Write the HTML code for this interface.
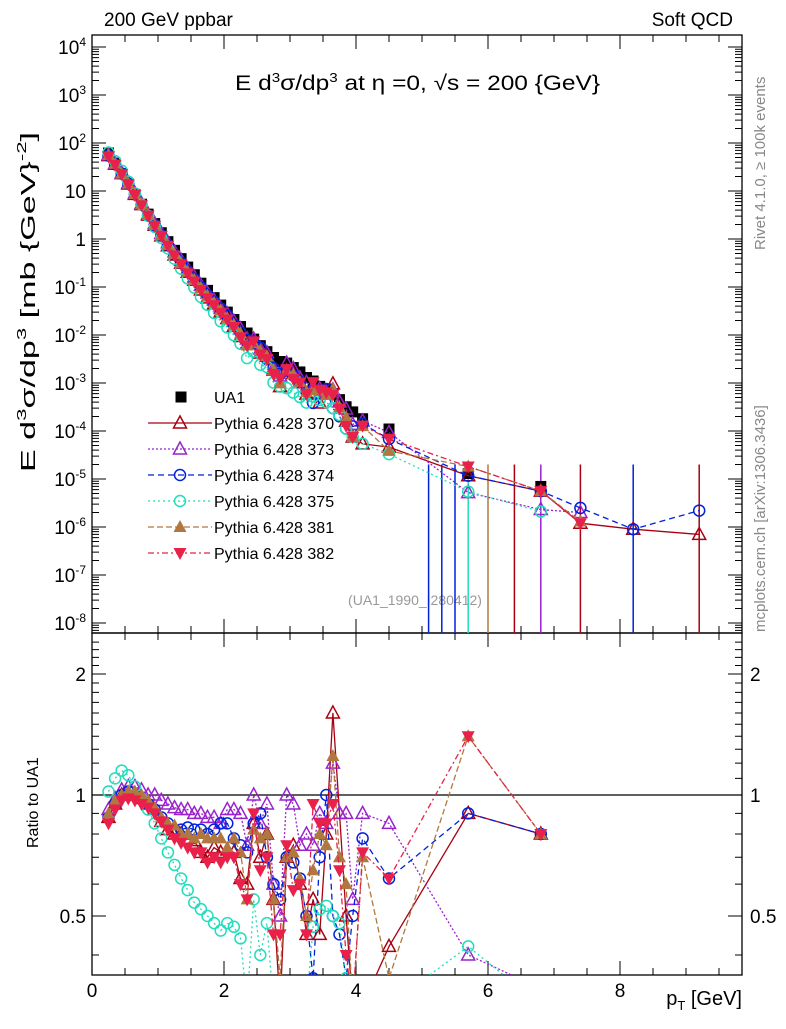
<!DOCTYPE html>
<html><head><meta charset="utf-8"><style>
body{margin:0;background:#fff;font-family:"Liberation Sans",sans-serif}
svg text{font-family:"Liberation Sans",sans-serif}
</style></head><body>
<svg id="c" width="786" height="1024" viewBox="0 0 786 1024" xmlns="http://www.w3.org/2000/svg">
<defs>
<clipPath id="cm"><rect x="92" y="35" width="650" height="598"/></clipPath>
<clipPath id="cr"><rect x="92" y="633" width="650" height="342"/></clipPath>
</defs>
<text x="104" y="26" font-size="19">200 GeV ppbar</text>
<text x="733" y="26" font-size="19" text-anchor="end">Soft QCD</text>
<text transform="translate(765,250) rotate(-90)" font-size="15" fill="#888">Rivet 4.1.0, ≥ 100k events</text>
<text transform="translate(765,632) rotate(-90)" font-size="15" fill="#888">mcplots.cern.ch [arXiv:1306.3436]</text>
<text x="235" y="90" font-size="21" textLength="365" lengthAdjust="spacingAndGlyphs">E   d<tspan font-size="13" dy="-8">3</tspan><tspan dy="8">σ/dp</tspan><tspan font-size="13" dy="-8">3</tspan><tspan dy="8"> at η =0, √s = 200 {GeV}</tspan></text>
<text transform="translate(35,472) rotate(-90)" font-size="20" textLength="340" lengthAdjust="spacingAndGlyphs">E d<tspan font-size="13" dy="-9">3</tspan><tspan dy="9">σ/dp</tspan><tspan font-size="13" dy="-9">3</tspan><tspan dy="9"> [mb {GeV}</tspan><tspan font-size="13" dy="-9">-2</tspan><tspan dy="9">]</tspan></text>
<text x="415" y="605" font-size="14" fill="#999" text-anchor="middle">(UA1_1990_I280412)</text>
<text transform="translate(38,848) rotate(-90)" font-size="16">Ratio to UA1</text>
<text x="742" y="1005" font-size="20" text-anchor="end">p<tspan font-size="13" dy="5">T</tspan><tspan dy="-5"> [GeV]</tspan></text>
<g id="g"></g>
</svg>
<script>
const pT=[0.25,0.35,0.45,0.55,0.65,0.75,0.85,0.95,1.05,1.15,1.25,1.35,1.45,1.55,1.65,1.75,1.85,1.95,2.05,2.15,2.25,2.35,2.45,2.55,2.65,2.75,2.85,2.95,3.05,3.15,3.25,3.35,3.45,3.55,3.65,3.75,3.85,3.95,4.1,4.5,5.7,6.8];
const ua1=[62,38,23,14,8.5,5.3,3.3,2.1,1.35,0.88,0.58,0.39,0.26,0.18,0.12,0.085,0.06,0.042,0.03,0.021,0.015,0.011,0.0082,0.006,0.0045,0.0034,0.0028,0.0026,0.0021,0.0017,0.0013,0.0011,0.00085,0.00075,0.0006,0.00045,0.00032,0.00025,0.00018,0.00011,1.3e-5,7e-6];
const r370=[0.88,0.95,1.0,1.0,1.0,0.98,0.95,0.92,0.86,0.82,0.8,0.8,0.78,0.77,0.72,0.7,0.74,0.72,0.73,0.72,0.62,0.6,0.85,0.7,0.8,0.55,0.3,0.7,0.75,0.6,0.45,0.55,0.45,0.8,1.6,0.9,0.5,0.3,0.3,0.42,0.9,0.8];
const r373=[0.92,0.98,1.03,1.05,1.05,1.03,1.0,1.0,0.97,0.95,0.93,0.92,0.92,0.9,0.9,0.88,0.88,0.85,0.92,0.92,0.9,0.75,1.0,0.85,0.95,0.6,0.5,1.0,0.95,0.75,0.8,0.75,0.9,0.85,1.2,0.9,0.9,0.55,0.9,0.85,0.4,0.33];
const r374=[0.88,0.95,1.0,1.02,1.0,0.98,0.95,0.92,0.88,0.85,0.82,0.82,0.83,0.82,0.82,0.8,0.82,0.85,0.85,0.78,0.75,0.72,0.85,0.9,0.7,0.6,0.55,0.7,0.68,0.62,0.5,0.35,0.7,1.0,0.5,0.45,0.35,0.5,0.78,0.62,0.9,0.8];
const r375=[1.02,1.1,1.15,1.12,1.05,0.98,0.92,0.85,0.78,0.72,0.67,0.62,0.58,0.54,0.52,0.5,0.48,0.46,0.48,0.47,0.44,0.3,0.55,0.4,0.48,0.3,0.3,0.3,0.3,0.3,0.3,0.47,0.52,0.53,0.5,0.48,0.35,0.3,0.3,0.3,0.42,0.3];
const r381=[0.9,0.97,1.0,1.02,1.02,1.0,0.97,0.93,0.88,0.85,0.84,0.8,0.8,0.78,0.8,0.78,0.78,0.78,0.74,0.78,0.72,0.55,0.82,0.78,0.8,0.55,0.35,0.7,0.72,0.62,0.5,0.65,0.8,0.75,1.25,0.7,0.6,0.3,0.7,0.35,1.4,0.8];
const r382=[0.85,0.92,0.97,0.98,0.97,0.95,0.93,0.9,0.86,0.82,0.78,0.76,0.74,0.72,0.72,0.68,0.7,0.68,0.7,0.7,0.6,0.55,0.9,0.65,0.7,0.45,0.45,0.75,0.58,0.6,0.45,0.95,0.85,0.85,0.95,0.65,0.4,0.3,0.72,0.62,1.4,0.8];
const tailPT=[7.4,8.2,9.2];
const t370=[1.2e-6,9e-7,7e-7];
const t373=[2e-6,null,null];
const t374=[2.5e-6,9e-7,2.2e-6];
const t375=[null,null,null];
const t381=[1.3e-6,null,null];
const t382=[1.2e-6,null,null];
const zeroPT=[5.1,5.3,5.5,5.7,6.0,6.4,6.8,7.4,8.2,9.2];
const zeroCol=["#0022dd","#0022dd","#0022dd","#22ddbb","#b07840","#aa0011","#9922cc","#aa0011","#0022dd","#aa0011"];
const xTicks=[0,2,4,6,8];
const yExp=[4,3,2,1,0,-1,-2,-3,-4,-5,-6,-7,-8];
const rTicks=[2,1,0.5];

const X=v=>92+66*v;
const Y=v=>239-48*Math.log10(v);
const R=v=>795-121*Math.log2(v);
const NS="http://www.w3.org/2000/svg";
const g=document.getElementById('g');
function mk(t,a,p){const e=document.createElementNS(NS,t);for(const k in a)e.setAttribute(k,a[k]);(p||g).appendChild(e);return e;}

let f=mk('rect',{x:92,y:35,width:650,height:598,fill:'none',stroke:'#000','stroke-width':1.3});


f=mk('rect',{x:92,y:633,width:650,height:342,fill:'none',stroke:'#000','stroke-width':1.3});


let u=mk('line',{x1:92,x2:742,y1:R(1),y2:R(1),stroke:'#000','stroke-width':1.2});



for(let v=0;v<=9.8;v+=0.5){const big=Math.abs(v-Math.round(v/2)*2)<1e-6;const L=big?14:7;const x=X(v);
 mk('path',{d:`M${x},975v${-L}M${x},633v${L}M${x},633v${-L}M${x},35v${L}`,stroke:'#000'});}
for(const v of xTicks){const t=mk('text',{x:X(v),y:997,'font-size':19,'text-anchor':'middle'});t.textContent=v;
 
 }
for(let e=-9;e<=4;e++){for(let m=1;m<10;m++){const y=Y(m*Math.pow(10,e));if(y<35||y>633)continue;const L=m==1?14:7;
 mk('path',{d:`M92,${y}h${L}M742,${y}h${-L}`,stroke:'#000'});}}
const lab={1:'10',0:'1'};
for(const e of yExp){const y=Y(Math.pow(10,e));const t=mk('text',{x:86,y:y+7,'font-size':19,'text-anchor':'end'});
 if(e>=2||e<0){t.innerHTML=`10<tspan font-size="12" dy="-8">${e}</tspan>`;}else t.textContent=lab[e];
 
 }
for(let v=0.4;v<=2.5;v+=0.1){const y=R(v);if(y<633||y>975)continue;const big=rTicks.some(r=>Math.abs(r-v)<1e-6);const L=big?14:7;
 mk('path',{d:`M92,${y}h${L}M742,${y}h${-L}`,stroke:'#000'});}
for(const v of rTicks){const y=R(v);let t=mk('text',{x:86,y:y+7,'font-size':19,'text-anchor':'end'});t.textContent=v;
 
 
 t=mk('text',{x:750,y:y+7,'font-size':19});t.textContent=v;
 
 }

const gm=mk('g',{'clip-path':'url(#cm)'});
const gr=mk('g',{'clip-path':'url(#cr)'});
zeroPT.forEach((p,i)=>{const l=mk('line',{x1:X(p),x2:X(p),y1:Y(2e-5),y2:640,stroke:zeroCol[i],'stroke-width':1.5},gm);
 
 });

function marker(type,x,y,col,p){
 let e;
 if(type=='sq')e=mk('rect',{x:x-5.5,y:y-5.5,width:11,height:11,fill:'#000'},p);
 else if(type=='otri')e=mk('path',{d:`M${x},${y-7}L${x+6.5},${y+5}L${x-6.5},${y+5}Z`,fill:'none',stroke:col,'stroke-width':1.5},p);
 else if(type=='ftri')e=mk('path',{d:`M${x},${y-7}L${x+6.5},${y+5}L${x-6.5},${y+5}Z`,fill:col},p);
 else if(type=='dtri')e=mk('path',{d:`M${x},${y+7}L${x+6.5},${y-5}L${x-6.5},${y-5}Z`,fill:col},p);
 else e=mk('circle',{cx:x,cy:y,r:5.5,fill:'none',stroke:col,'stroke-width':1.5},p);
 return e;}

const series=[
 {n:'370',r:r370,t:t370,c:'#aa0011',m:'otri',d:''},
 {n:'373',r:r373,t:t373,c:'#9922cc',m:'otri',d:'2,2'},
 {n:'374',r:r374,t:t374,c:'#0022dd',m:'circ',d:'6,4'},
 {n:'375',r:r375,t:t375,c:'#22ddbb',m:'circ',d:'2,3'},
 {n:'381',r:r381,t:t381,c:'#b07840',m:'ftri',d:'6,3'},
 {n:'382',r:r382,t:t382,c:'#e8204a',m:'dtri',d:'6,3,2,3'}];

pT.forEach((p,i)=>{const e=marker('sq',X(p),Y(ua1[i]),'#000',gm);
 
 });
series.forEach(s=>{
 const mp=pT.map((p,i)=>[X(p),Y(ua1[i]*s.r[i])]);
 s.t.forEach((v,i)=>{if(v!=null)mp.push([X(tailPT[i]),Y(v)]);});
 let l=mk('polyline',{points:mp.map(q=>q.join(',')).join(' '),fill:'none',stroke:s.c,'stroke-width':1.3,'stroke-dasharray':s.d},gm);
 
 
 mp.forEach(q=>{const e=marker(s.m,q[0],q[1],s.c,gm);
  
  });
 const rp=pT.map((p,i)=>[X(p),R(s.r[i])]);
 l=mk('polyline',{points:rp.map(q=>q.join(',')).join(' '),fill:'none',stroke:s.c,'stroke-width':1.3,'stroke-dasharray':s.d},gr);
 
 
 rp.forEach(q=>{const e=marker(s.m,q[0],q[1],s.c,gr);
  
  });
});

const lg=mk('g',{});


let y0=397;
marker('sq',181,y0,'#000',lg);
let t=mk('text',{x:214,y:y0+6,'font-size':16},lg);t.textContent='UA1';


series.forEach((s,i)=>{const y=y0+26*(i+1);
 mk('line',{x1:148,x2:212,y1:y,y2:y,stroke:s.c,'stroke-width':1.3,'stroke-dasharray':s.d},lg);
 marker(s.m,180,y,s.c,lg);
 const t=mk('text',{x:214,y:y+6,'font-size':16},lg);t.textContent='Pythia 6.428 '+s.n;
 
 });
</script>
</body></html>
